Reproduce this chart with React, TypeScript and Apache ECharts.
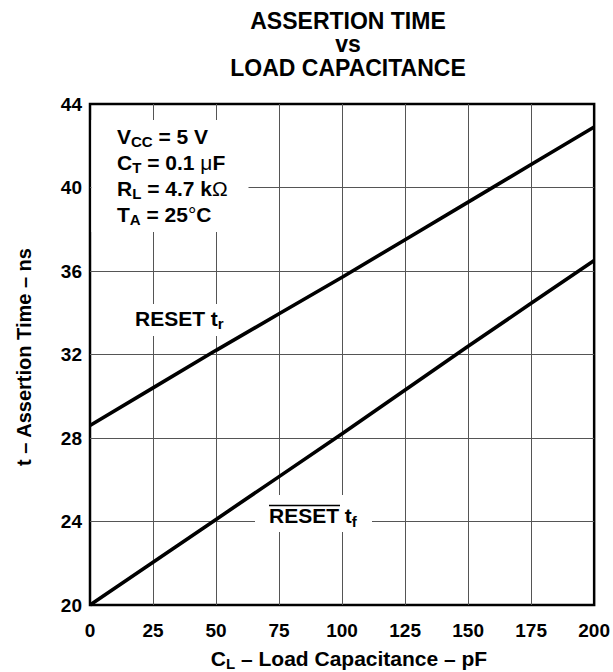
import React, { useEffect, useRef } from 'react';
import * as echarts from 'echarts';

// ---- Data ----
const loadCapacitance = [0, 25, 50, 75, 100, 125, 150, 175, 200]; // pF
const resetRise = [28.6, 30.4, 32.2, 33.95, 35.7, 37.5, 39.3, 41.1, 42.9]; // ns (RESET tr)
const resetFall = [20.0, 22.05, 24.1, 26.15, 28.2, 30.3, 32.4, 34.45, 36.5]; // ns (RESET tf)

const xMin = 0;
const xMax = 200;
const xStep = 25;
const yMin = 20;
const yMax = 44;
const yStep = 4;

const titleLines = ['ASSERTION TIME', 'vs', 'LOAD CAPACITANCE'];
const conditionLines = [
  '{m|V}{s|CC}{m| = 5 V}',
  '{m|C}{s|T}{m| = 0.1 }{n|μ}{m|F}',
  '{m|R}{s|L}{m| = 4.7 k}{n|Ω}',
  '{m|T}{s|A}{m| = 25}{n|°}{m|C}',
];
const riseLabel = '{m|RESET t}{s|r}';
const fallLabel = '{m|RESET t}{s|f}';
const xName = '{m|C}{s|L}{m| – Load Capacitance – pF}';
const yName = 't – Assertion Time – ns';

const FONT = '"Liberation Sans", Arial, Helvetica, sans-serif';

const rich = {
  m: { fontFamily: FONT, fontSize: 21, fontWeight: 'bold', lineHeight: 26, fill: '#000' },
  s: { fontFamily: FONT, fontSize: 15, fontWeight: 'bold', lineHeight: 15, verticalAlign: 'bottom', fill: '#000' },
  n: { fontFamily: FONT, fontSize: 21, fontWeight: 'normal', lineHeight: 26, fill: '#000' },
};

export default function App() {
  const ref = useRef<HTMLDivElement>(null);

  useEffect(() => {
    if (!ref.current) return;
    const chart = echarts.init(ref.current, null, { renderer: 'svg' });

    const graphic: any[] = [
      // title (one multi-line text)
      {
        type: 'text',
        x: 348,
        y: 44,
        z: 10,
        style: {
          text: titleLines.join('\n'),
          fontFamily: FONT,
          fontSize: 23,
          fontWeight: 'bold',
          lineHeight: 23.5,
          fill: '#000',
          align: 'center',
          verticalAlign: 'middle',
        },
      },
      // white boxes behind annotations
      { type: 'rect', z: 1, shape: { x: 91.5, y: 120, width: 157, height: 112 }, style: { fill: '#fff' } },
      { type: 'rect', z: 1, shape: { x: 128, y: 304, width: 104, height: 32 }, style: { fill: '#fff' } },
      { type: 'rect', z: 1, shape: { x: 255, y: 495, width: 117, height: 37 }, style: { fill: '#fff' } },
      // conditions
      {
        type: 'text',
        x: 117,
        y: 123,
        z: 10,
        style: {
          text: conditionLines.join('\n'),
          rich,
          align: 'left',
          verticalAlign: 'top',
        },
      },
      {
        type: 'text',
        x: 135,
        y: 318,
        z: 10,
        style: { text: riseLabel, rich, align: 'left', verticalAlign: 'middle' },
      },
      {
        type: 'text',
        x: 269,
        y: 515.5,
        z: 10,
        style: { text: fallLabel, rich, align: 'left', verticalAlign: 'middle' },
      },
      {
        type: 'line',
        z: 10,
        shape: { x1: 269, y1: 505.5, x2: 340, y2: 505.5 },
        style: { stroke: '#000', lineWidth: 1.3 },
      },
      // axis names
      {
        type: 'text',
        x: 349,
        y: 658,
        z: 10,
        style: { text: xName, rich, align: 'center', verticalAlign: 'middle' },
      },
      {
        type: 'text',
        x: 24,
        y: 357,
        rotation: Math.PI / 2,
        z: 10,
        style: {
          text: yName,
          fontFamily: FONT,
          fontSize: 20,
          fontWeight: 'bold',
          fill: '#000',
          align: 'center',
          verticalAlign: 'middle',
        },
      },
    ];

    chart.setOption({
      animation: false,
      backgroundColor: '#fff',
      grid: {
        left: 90,
        right: 18,
        top: 104,
        bottom: 67,
        show: true,
        borderColor: '#000',
        borderWidth: 2.5,
        backgroundColor: 'transparent',
      },
      xAxis: {
        type: 'value',
        min: xMin,
        max: xMax,
        interval: xStep,
        axisLine: { show: false },
        axisTick: { show: false },
        splitLine: { show: true, showMinLine: false, showMaxLine: false, lineStyle: { color: '#555', width: 1 } },
        axisLabel: { fontFamily: FONT, fontSize: 19, fontWeight: 'bold', color: '#000', margin: 16 },
      },
      yAxis: {
        type: 'value',
        min: yMin,
        max: yMax,
        interval: yStep,
        axisLine: { show: false },
        axisTick: { show: false },
        splitLine: { show: true, showMinLine: false, showMaxLine: false, lineStyle: { color: '#555', width: 1 } },
        axisLabel: { fontFamily: FONT, fontSize: 19, fontWeight: 'bold', color: '#000', margin: 8 },
      },
      series: [
        {
          name: 'RESET tr',
          type: 'line',
          z: 3,
          symbol: 'none',
          data: loadCapacitance.map((x, i) => [x, resetRise[i]]),
          lineStyle: { color: '#000', width: 3.6 },
        },
        {
          name: 'RESET tf',
          type: 'line',
          z: 3,
          symbol: 'none',
          data: loadCapacitance.map((x, i) => [x, resetFall[i]]),
          lineStyle: { color: '#000', width: 3.6 },
        },
      ],
      graphic,
    });

    return () => chart.dispose();
  }, []);

  return (
    <div
      ref={ref}
      style={{ position: 'fixed', left: 0, top: 0, width: 613, height: 672, background: '#fff' }}
    />
  );
}
